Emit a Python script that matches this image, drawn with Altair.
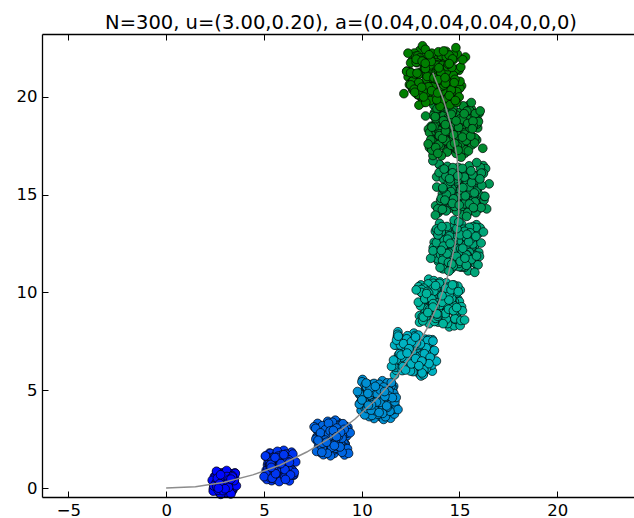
import altair as alt
import pandas as pd

TITLE = "N=300, u=(3.00,0.20), a=(0.04,0.04,0.04,0,0,0)"

# cluster centres, spread and colour per step
CX = [2.96, 5.80, 8.47, 10.80, 12.65, 14.00, 14.85, 15.05, 14.70, 13.70]
CY = [0.28, 1.12, 2.55, 4.52, 6.85, 9.45, 12.35, 15.30, 18.35, 21.05]
SPREAD = [0.55, 0.72, 0.82, 0.92, 1.02, 1.10, 1.20, 1.28, 1.30, 1.40]
COLORS = ["#0008ff", "#0036f2", "#0066e2", "#008fd2", "#00b2c2",
          "#00b49c", "#00a578", "#009856", "#008a2e", "#007f00"]

# hand-read scatter offsets inside a cluster (in units of the cluster spread)
DX = [0.12, -0.35, 0.58, -0.71, 0.25, -0.15, 0.83, -0.52, 0.44, -0.88,
      0.05, 0.67, -0.28, 0.31, -0.62, 0.91, -0.05, 0.18, -0.45, 0.72,
      -0.78, 0.38, -0.22, 0.55, -0.95, 0.02, 0.48, -0.60, 0.85, -0.38,
      0.15, -0.12, 0.65, -0.82, 0.35, -0.50, 0.95, -0.18, 0.28, -0.68,
      0.60, -0.30, 0.10, -0.90, 0.75, -0.42, 0.22, -0.08, 0.50, -0.55,
      0.80, -0.25, 0.40, -0.75, 0.08, 0.62, -0.35, 0.92, -0.65, 0.30,
      -0.02, 0.45, -0.48, 0.70, -0.15, 0.18, -0.85, 0.55, -0.58, 0.98,
      1.15, -1.10, 0.25, -0.30, 1.05, -1.00, 0.65, -0.70, 0.00, 0.35,
      -0.20, 0.15, -0.40, 0.52, -0.10, 0.78, -0.62, 0.42, -0.32, 0.10]
DY = [0.05, 0.42, -0.22, -0.31, 0.78, -0.66, 0.34, 0.71, -0.63, 0.12,
      -0.95, 0.61, 0.18, 0.33, -0.58, -0.05, 0.93, -0.38, -0.12, -0.55,
      0.45, 0.55, -0.88, 0.12, -0.25, 0.48, -0.85, 0.30, 0.70, -0.42,
      -0.15, 0.65, -0.35, -0.62, 0.95, 0.92, 0.18, -0.30, -0.72, 0.02,
      0.40, 0.50, 0.22, 0.55, -0.80, -0.78, 0.62, -0.48, -0.05, -0.35,
      0.05, 0.85, 0.20, -0.10, 0.75, 0.82, -0.95, -0.42, 0.62, -0.50,
      -0.20, 0.45, 0.15, -0.18, 0.35, -0.90, -0.42, 0.65, -0.75, 0.50,
      -0.30, 0.20, 1.12, -1.10, 0.85, -0.80, -1.05, 1.05, 0.00, -0.25,
      0.08, 0.40, -0.60, 0.30, -0.75, 0.52, 0.40, -0.45, 0.72, -0.58]

# mean trajectory (grey line)
PATH_X = [0.00, 1.50, 2.98, 4.43, 5.84, 7.19, 8.47, 9.66, 10.76, 11.75, 12.62,
          13.37, 13.98, 14.45, 14.78, 14.96, 14.99, 14.88, 14.61, 14.19, 13.64]
PATH_Y = [0.00, 0.07, 0.30, 0.67, 1.18, 1.84, 2.62, 3.53, 4.55, 5.68, 6.90,
          8.20, 9.56, 10.99, 12.45, 13.94, 15.44, 16.93, 18.41, 19.85, 21.24]

X_TICKS = [-5, 0, 5, 10, 15, 20]
Y_TICKS = [0, 5, 10, 15, 20]
X_DOMAIN = [-6.35, 23.93]
Y_DOMAIN = [-0.46, 23.22]

n = len(DX)
rows = []
o = 0
for k in range(len(CX)):
    s = SPREAD[k]
    for i in range(n):
        # first pass of offsets
        rows.append({"x": CX[k] + s * DX[i],
                     "y": CY[k] + s * DY[(i + 13 * k) % n],
                     "cluster": k, "ord": o})
        o += 1
        # second pass: same read offsets, transposed
        rows.append({"x": CX[k] + 0.9 * s * DY[(i + 7 * k) % n],
                     "y": CY[k] - 0.9 * s * DX[(i + 41 * k + 3) % n],
                     "cluster": k, "ord": o})
        o += 1
pts_df = pd.DataFrame(rows)
path_df = pd.DataFrame({"x": PATH_X, "y": PATH_Y, "t": list(range(len(PATH_X)))})

FONT = "DejaVu Sans"
xs = alt.Scale(domain=X_DOMAIN, nice=False, zero=False)
ys = alt.Scale(domain=Y_DOMAIN, nice=False, zero=False)

common_tick = dict(offset=-6, tickSize=6, domain=False, grid=False, tickColor="black",
                   tickWidth=1, title=None, zindex=1)
ax_bottom = alt.Axis(orient="bottom", values=X_TICKS, labelPadding=5, labelFontSize=16.5,
                     labelFont=FONT, labelColor="black", labelFlush=False, **common_tick)
ax_left = alt.Axis(orient="left", values=Y_TICKS, labelPadding=5, labelFontSize=16.5,
                   labelFont=FONT, labelColor="black", labelFlush=False, **common_tick)
ax_top = alt.Axis(orient="top", values=X_TICKS, labels=False, **common_tick)

common_dom = dict(offset=0, domain=True, domainColor="black", domainWidth=1.3, ticks=False,
                  labels=False, grid=False, title=None, zindex=2)
ax_left_dom = alt.Axis(orient="left", **common_dom)
ax_bottom_dom = alt.Axis(orient="bottom", **common_dom)
ax_top_dom = alt.Axis(orient="top", **common_dom)

points = alt.Chart(pts_df).mark_circle(size=76, opacity=1, stroke="black", strokeWidth=0.7).encode(
    x=alt.X("x:Q", scale=xs, axis=ax_bottom),
    y=alt.Y("y:Q", scale=ys, axis=ax_left),
    color=alt.Color("cluster:N", scale=alt.Scale(domain=list(range(len(CX))), range=COLORS), legend=None),
    order=alt.Order("ord:Q"),
)

line = alt.Chart(path_df).mark_line(color="#8c8c8c", strokeWidth=1.5).encode(
    x=alt.X("x:Q", scale=xs, axis=ax_top),
    y=alt.Y("y:Q", scale=ys, axis=ax_left_dom),
    order=alt.Order("t:Q"),
)

frame_b = alt.Chart(path_df).mark_line(opacity=0).encode(
    x=alt.X("x:Q", scale=xs, axis=ax_bottom_dom),
    y=alt.Y("y:Q", scale=ys, axis=None),
    order=alt.Order("t:Q"),
)
frame_t = alt.Chart(path_df).mark_line(opacity=0).encode(
    x=alt.X("x:Q", scale=xs, axis=ax_top_dom),
    y=alt.Y("y:Q", scale=ys, axis=None),
    order=alt.Order("t:Q"),
)

chart = alt.layer(points, line, frame_b, frame_t).resolve_axis(
    x="independent", y="independent"
).properties(
    width=592,
    height=463,
    autosize=alt.AutoSizeParams(type="none"),
    padding={"left": 42, "top": 34, "right": 0, "bottom": 21},
    background="white",
    title=alt.TitleParams(TITLE, fontSize=19.5, font=FONT, fontWeight="normal", color="black",
                          anchor="middle", baseline="bottom", frame="group", offset=2, dx=3, dy=21),
).configure_view(stroke="transparent")

chart.save("out.html", embed_options={"renderer": "svg", "actions": False})
